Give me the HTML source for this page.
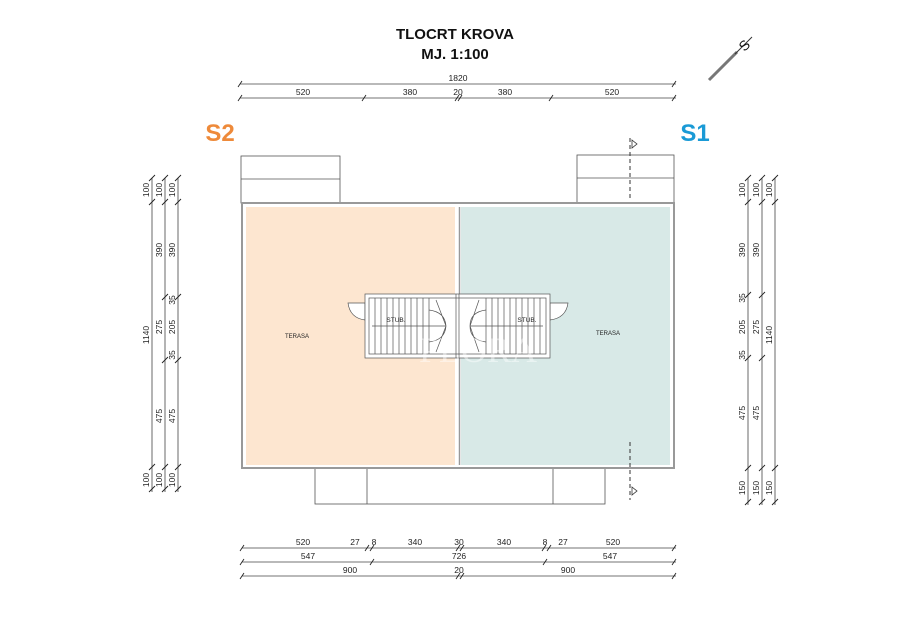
<!DOCTYPE html>
<html><head><meta charset="utf-8"><style>
html,body{margin:0;padding:0;background:#fff;}
svg{display:block;font-family:"Liberation Sans",sans-serif;}
</style></head><body>
<svg width="920" height="628" viewBox="0 0 920 628" xmlns="http://www.w3.org/2000/svg">
<g fill="#111" font-weight="bold" font-size="15" text-anchor="middle">
<text x="455" y="39">TLOCRT KROVA</text>
<text x="455" y="59">MJ. 1:100</text>
</g>
<text x="220" y="141" font-size="24" font-weight="bold" fill="#ee8a3a" text-anchor="middle">S2</text>
<text x="695" y="141" font-size="24" font-weight="bold" fill="#1a9ad6" text-anchor="middle">S1</text>
<!-- north -->
<line x1="709" y1="80" x2="737" y2="52" stroke="#777" stroke-width="3"/>
<line x1="735" y1="54" x2="752" y2="37" stroke="#333" stroke-width="1"/>
<text x="745" y="50" font-size="14" transform="rotate(-45 745 46)" text-anchor="middle" fill="#111">S</text>

<g stroke="#444" stroke-width="0.8" fill="none">
<!-- top dims -->
<line x1="240" y1="84" x2="676" y2="84"/>
<line x1="240" y1="98" x2="676" y2="98"/>
<!-- left dims -->
<line x1="152" y1="178" x2="152" y2="492"/>
<line x1="165" y1="178" x2="165" y2="492"/>
<line x1="178" y1="178" x2="178" y2="492"/>
<!-- right dims -->
<line x1="748" y1="178" x2="748" y2="505"/>
<line x1="762" y1="178" x2="762" y2="505"/>
<line x1="775" y1="178" x2="775" y2="505"/>
<!-- bottom dims -->
<line x1="242" y1="548" x2="676" y2="548"/>
<line x1="242" y1="562" x2="676" y2="562"/>
<line x1="242" y1="576" x2="676" y2="576"/>
</g>
<g stroke="#222" stroke-width="0.9">
<path d="M238 87l4-6M238 101l4-6M362 101l4-6M455 101l4-6M458 101l4-6M549 101l4-6M672 87l4-6M672 101l4-6"/>
<path d="M149 181l6-6M149 205l6-6M149 470l6-6M149 492l6-6M162 181l6-6M162 205l6-6M162 300l6-6M162 363l6-6M162 470l6-6M162 492l6-6M175 181l6-6M175 205l6-6M175 300l6-6M175 363l6-6M175 470l6-6M175 492l6-6"/>
<path d="M745 181l6-6M745 205l6-6M745 298l6-6M745 361l6-6M745 471l6-6M745 505l6-6M759 181l6-6M759 205l6-6M759 298l6-6M759 361l6-6M759 471l6-6M759 505l6-6M772 181l6-6M772 205l6-6M772 471l6-6M772 505l6-6"/>
<path d="M240 551l4-6M240 565l4-6M240 579l4-6M365 551l4-6M370 551l4-6M456 551l4-6M460 551l4-6M542 551l4-6M547 551l4-6M672 551l4-6M370 565l4-6M543 565l4-6M672 565l4-6M456 579l4-6M460 579l4-6M672 579l4-6"/>
</g>
<g font-size="8.5" fill="#222" text-anchor="middle">
<text x="458" y="81">1820</text>
<text x="303" y="95">520</text><text x="410" y="95">380</text><text x="458" y="95">20</text><text x="505" y="95">380</text><text x="612" y="95">520</text>
<text x="303" y="545">520</text><text x="355" y="545">27</text><text x="374" y="545">8</text><text x="415" y="545">340</text><text x="459" y="545">30</text><text x="504" y="545">340</text><text x="545" y="545">8</text><text x="563" y="545">27</text><text x="613" y="545">520</text>
<text x="308" y="559">547</text><text x="459" y="559">726</text><text x="610" y="559">547</text>
<text x="350" y="573">900</text><text x="459" y="573">20</text><text x="568" y="573">900</text>
<g transform="rotate(-90)">
<text x="-190" y="149">100</text><text x="-190" y="162">100</text><text x="-190" y="175">100</text>
<text x="-250" y="162">390</text><text x="-250" y="175">390</text>
<text x="-300" y="175">35</text><text x="-327" y="162">275</text><text x="-327" y="175">205</text><text x="-355" y="175">35</text>
<text x="-335" y="149">1140</text>
<text x="-416" y="162">475</text><text x="-416" y="175">475</text>
<text x="-480" y="149">100</text><text x="-480" y="162">100</text><text x="-480" y="175">100</text>
<text x="-190" y="745">100</text><text x="-190" y="759">100</text><text x="-190" y="772">100</text>
<text x="-250" y="745">390</text><text x="-250" y="759">390</text>
<text x="-298" y="745">35</text><text x="-327" y="745">205</text><text x="-327" y="759">275</text><text x="-355" y="745">35</text>
<text x="-335" y="772">1140</text>
<text x="-413" y="745">475</text><text x="-413" y="759">475</text>
<text x="-488" y="745">150</text><text x="-488" y="759">150</text><text x="-488" y="772">150</text>
</g>
</g>
<!-- boxes -->
<g stroke="#555" stroke-width="0.8" fill="none">
<rect x="241" y="156" width="99" height="47"/><line x1="241" y1="179" x2="340" y2="179"/>
<rect x="577" y="155" width="97" height="48"/><line x1="577" y1="178" x2="674" y2="178"/>
<rect x="315" y="468" width="290" height="36"/><line x1="367" y1="468" x2="367" y2="504"/><line x1="553" y1="468" x2="553" y2="504"/>
</g>
<rect x="242" y="203" width="432" height="265" fill="#fff" stroke="#999" stroke-width="2"/>
<rect x="246" y="207" width="209" height="258" fill="#fde6d0"/>
<rect x="461" y="207" width="209" height="258" fill="#d8e9e7"/>
<line x1="459.5" y1="207" x2="459.5" y2="465" stroke="#999" stroke-width="1.5"/>
<!-- section lines -->
<g stroke="#333" stroke-dasharray="4,3" stroke-width="1">
<line x1="630" y1="138" x2="630" y2="200"/><line x1="630" y1="442" x2="630" y2="500"/>
</g>
<path d="M632 140l5 4-5 4z M632 487l5 4-5 4z" fill="none" stroke="#333" stroke-width="0.8"/>
<!-- stairs -->
<g stroke="#555" stroke-width="0.7" fill="#fff">
<path d="M365 303 L348 303 Q350 318 365 320 Z"/>
<path d="M550 303 L568 303 Q566 318 550 320 Z"/>
<rect x="365" y="294" width="185" height="64"/>
</g>
<g stroke="#555" stroke-width="0.7" fill="none">
<rect x="369" y="298" width="177" height="56"/>
<line x1="456" y1="294" x2="456" y2="358"/><line x1="459" y1="294" x2="459" y2="358"/>
<line x1="372" y1="326" x2="446" y2="326"/><line x1="470" y1="326" x2="543" y2="326"/>
<path d="M375 298v56M381 298v56M387 298v56M393 298v56M399 298v56M405 298v56M411 298v56M417 298v56M423 298v56M429 298v56"/>
<path d="M486 298v56M492 298v56M498 298v56M504 298v56M510 298v56M516 298v56M522 298v56M528 298v56M534 298v56M540 298v56"/>
<path d="M429 310 Q445 312 446 326 Q445 340 429 342 M436 300 L446 326 L436 352 M486 310 Q470 312 470 326 Q470 340 486 342 M479 300 L470 326 L479 352"/>
</g>
<text x="396" y="322" font-size="6.5" fill="#222" text-anchor="middle">STUB.</text>
<text x="527" y="322" font-size="6.5" fill="#222" text-anchor="middle">STUB.</text>
<text x="297" y="338" font-size="6" fill="#222" text-anchor="middle">TERASA</text>
<text x="608" y="335" font-size="6" fill="#222" text-anchor="middle">TERASA</text>
<text x="478" y="362" font-size="36" fill="#fff" fill-opacity="0.45" font-family="Liberation Serif,serif" text-anchor="middle">PLORA</text>
</svg>
</body></html>
